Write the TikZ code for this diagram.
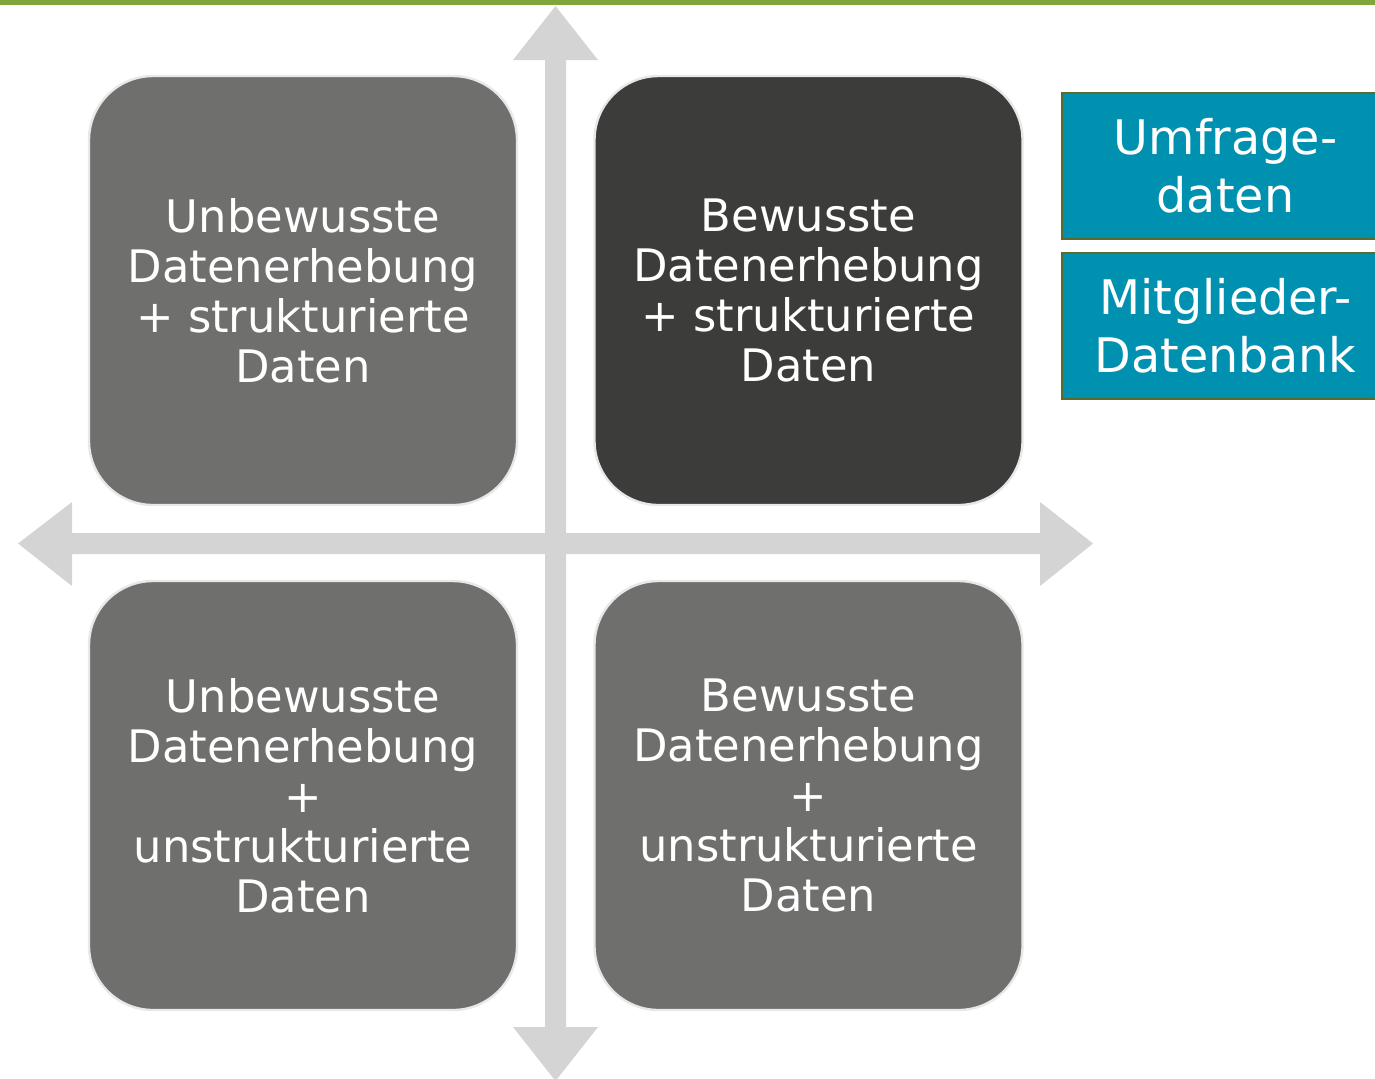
\documentclass[tikz,border=0pt]{standalone}
\usepackage{fontspec}
\setmainfont{DejaVu Sans}
\definecolor{topgreen}{HTML}{7FA53B}
\definecolor{axisgray}{HTML}{D4D4D4}
\definecolor{quadfill}{HTML}{6F6F6D}
\definecolor{quaddark}{HTML}{3C3C3A}
\definecolor{quadline}{HTML}{E8E8E8}
\definecolor{srcfill}{HTML}{0091B0}
\definecolor{srcline}{HTML}{5A6B2A}

\begin{document}
\begin{tikzpicture}[x=0.5pt, y=-0.5pt]
			\tikzset{quad/.style={shape = rectangle, rounded corners = 32pt, draw = quadline, line width = 1.2pt, fill = quadfill, text = white, minimum width = 214pt, minimum height = 214.5pt, align = center, font = \fontsize{22.4pt}{25pt}\selectfont}}
			\tikzset{src/.style={shape = rectangle, draw = srcline, line width = 1pt, fill = srcfill, text = white, minimum width = 164pt, minimum height = 73pt, align = center, font = \fontsize{23.8pt}{29pt}\selectfont}}
			\useasboundingbox (0,0) rectangle (1375,1078);
			\clip (0,0) rectangle (1375,1078);
			%top line
			\fill[topgreen] (0,0) rectangle (1375,5);
			%axes
			\fill[axisgray] (555.5,6) -- (598,60) -- (566,60) -- (566,1027) -- (598,1027) -- (555.5,1081)
				-- (513,1027) -- (545,1027) -- (545,60) -- (513,60) -- cycle;
			\fill[axisgray] (18,543.5) -- (72,502) -- (72,533) -- (1040,533) -- (1040,502) -- (1093,543.5)
				-- (1040,586) -- (1040,554) -- (72,554) -- (72,586) -- cycle;
			%quadrants
			\node[quad] (us) at (303, 290.5) {Unbewusste\\Datenerhebung\\+ strukturierte\\Daten};
			\node[quad, fill = quaddark] (bs) at (808.5, 290.5) {Bewusste\\Datenerhebung\\+ strukturierte\\Daten};
			\node[quad] (uu) at (303, 795.5) {Unbewusste\\Datenerhebung\\+\\unstrukturierte\\Daten};
			\node[quad] (bu) at (808.5, 795.5) {Bewusste\\Datenerhebung\\+\\unstrukturierte\\Daten};
			%sources
			\node[src] (umf) at (1225.5, 165.5) {Umfrage-\\daten};
			\node[src] (mdb) at (1225.5, 325.5) {Mitglieder-\\Datenbank};
			\end{tikzpicture}
\end{document}
